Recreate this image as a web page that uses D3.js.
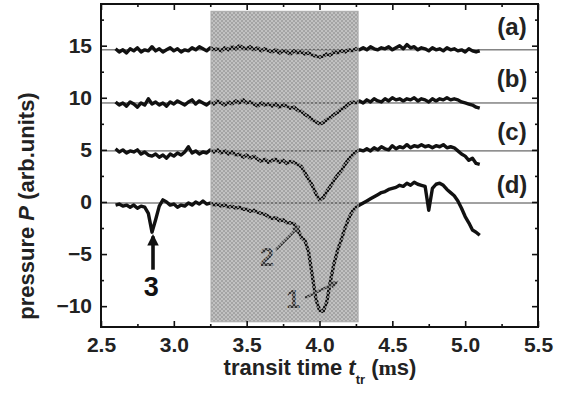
<!DOCTYPE html>
<html>
<head>
<meta charset="utf-8">
<script src="https://cdn.jsdelivr.net/npm/d3@7"></script>
<style>
  body { margin: 0; background: #fff; }
  text { font-family: "Liberation Sans", Arial, sans-serif; font-weight: bold; fill: #222; }
</style>
</head>
<body>
<div id="chart"></div>
<script>
// sample times: 2.600 .. 5.100 ms, every 0.025
const tGrid = d3.range(101).map(i => 2.6 + i * 0.025);

const seriesA = [14.7,14.4,14.6,14.3,14.7,14.5,14.8,14.4,14.6,14.5,14.9,14.5,14.7,14.4,14.6,14.8,14.5,14.7,14.4,14.6,
  14.5,14.8,14.6,14.9,14.7,14.5,14.8,14.6,14.7,14.5,14.8,14.6,14.9,14.7,15.0,14.8,14.7,14.9,14.6,14.8,
  14.5,14.7,14.5,14.4,14.6,14.3,14.5,14.4,14.2,14.5,14.3,14.4,14.2,14.3,14.1,14.0,13.9,14.0,14.2,14.1,
  14.4,14.3,14.5,14.4,14.6,14.5,14.7,14.6,14.8,14.6,14.9,14.7,14.6,14.8,14.7,14.9,14.6,14.8,15.0,14.7,
  15.1,14.8,14.9,14.6,14.8,14.7,14.5,14.8,14.6,14.7,14.5,14.8,14.6,14.7,14.5,14.6,14.4,14.7,14.5,14.4,14.5];

const seriesB = [9.6,9.3,9.5,9.2,9.6,9.4,9.1,9.5,9.3,9.9,9.4,9.6,9.3,9.5,9.2,9.6,9.4,9.7,9.5,9.3,
  9.6,9.8,9.4,9.7,9.5,9.3,9.6,9.4,9.7,9.5,9.3,9.6,9.4,9.7,9.5,9.8,9.5,9.6,9.4,9.2,
  9.5,9.3,9.4,9.2,9.4,9.1,9.3,9.2,9.0,9.1,8.8,8.7,8.4,8.2,7.9,7.7,7.5,7.6,7.9,8.1,
  8.4,8.6,8.9,9.1,9.4,9.6,9.5,9.7,9.5,9.8,9.6,9.9,9.7,9.6,9.9,9.7,10.0,9.8,9.9,9.7,
  9.9,9.8,10.0,9.7,9.9,9.8,9.6,9.9,9.7,9.9,9.8,10.0,9.8,9.9,9.8,9.6,9.5,9.4,9.3,9.1,9.0];

const seriesC = [5.1,4.8,5.0,4.7,4.9,4.8,5.0,4.6,4.8,4.5,4.4,4.6,4.3,4.5,4.2,4.6,4.4,4.7,4.5,4.8,
  5.3,4.7,4.9,4.6,4.8,4.7,5.0,4.8,5.0,4.7,4.9,4.6,4.8,4.5,4.6,4.3,4.5,4.2,4.4,4.1,
  3.9,4.1,3.8,4.0,4.1,3.8,4.0,3.7,3.9,3.8,3.6,3.4,2.8,2.2,1.6,0.8,0.2,0.4,1.0,1.5,
  2.1,2.6,3.0,3.6,4.1,4.5,4.8,5.0,4.9,5.1,4.9,5.2,5.0,5.3,5.1,5.0,5.4,5.1,5.3,5.2,
  5.5,5.2,5.4,5.3,5.5,5.3,5.4,5.2,5.4,5.3,5.5,5.2,5.3,5.2,4.9,4.6,4.4,4.0,4.2,3.7,3.6];

const seriesD = [-0.3,-0.2,-0.4,-0.3,-0.5,-0.3,-0.6,-0.4,-0.5,-1.1,-2.9,-1.7,-0.4,0.2,0.0,-0.3,-0.2,-0.5,-0.3,-0.4,
  -0.1,-0.3,0.0,-0.2,0.1,-0.2,-0.1,-0.3,-0.2,-0.4,-0.3,-0.5,-0.4,-0.6,-0.5,-0.7,-0.7,-0.9,-0.8,-1.0,
  -1.1,-1.2,-1.4,-1.6,-1.5,-1.8,-1.7,-2.0,-2.0,-2.1,-2.6,-3.4,-3.7,-4.8,-7.0,-9.3,-10.4,-10.5,-9.6,-7.6,
  -5.9,-4.6,-3.6,-2.5,-1.6,-0.9,-0.5,-0.3,-0.1,0.1,0.3,0.5,0.7,0.9,1.0,1.2,1.3,1.4,1.6,1.5,
  1.8,1.6,1.9,1.7,1.6,1.5,-0.8,1.3,1.7,1.8,1.6,1.2,0.9,0.6,0.1,-0.6,-1.4,-2.0,-2.7,-2.9,-3.2];

const allSeries = [seriesA, seriesB, seriesC, seriesD];
const curveLabels = ['(a)', '(b)', '(c)', '(d)'];
const labelLevels = [16.0, 11.0, 5.9, 0.9];
const baselines = [14.6, 9.5, 4.9, -0.1];
const shadedSpan = [3.255, 4.265];
const shadedLevels = [18.3, -11.5];
const xTicks = [2.5, 3.0, 3.5, 4.0, 4.5, 5.0, 5.5];
const yTicks = [-10, -5, 0, 5, 10, 15];
const xMinor = [2.75, 3.25, 3.75, 4.25, 4.75, 5.25];
const yMinor = [-7.5, -2.5, 2.5, 7.5, 12.5, 17.5];

// annotation arrows: label, label position, arrow from -> to (data units)
const notes = [
  {text: '3', at: [2.845, -9.0], from: [2.857, -6.5], to: [2.857, -3.3], grey: false},
  {text: '2', at: [3.64, -6.1], from: [3.70, -4.6], to: [3.86, -2.35], grey: true},
  {text: '1', at: [3.82, -10.2], from: [3.90, -9.2], to: [4.12, -7.7], grey: true},
];

const W = 568, H = 398;
const margin = {top: 4, right: 30, bottom: 71, left: 101};
const width = W - margin.left - margin.right;
const height = H - margin.top - margin.bottom;

const svg = d3.select('#chart').append('svg')
  .attr('width', W)
  .attr('height', H);

const defs = svg.append('defs');
const pat = defs.append('pattern')
  .attr('id', 'hatch')
  .attr('patternUnits', 'userSpaceOnUse')
  .attr('width', 4).attr('height', 4);
pat.append('rect').attr('width', 4).attr('height', 4).attr('fill', '#f2f2f2');
pat.append('rect').attr('x', 0).attr('y', 0).attr('width', 2).attr('height', 2).attr('fill', '#a4a4a4');
pat.append('rect').attr('x', 2).attr('y', 2).attr('width', 2).attr('height', 2).attr('fill', '#a4a4a4');

const over = defs.append('pattern')
  .attr('id', 'hatchOver')
  .attr('patternUnits', 'userSpaceOnUse')
  .attr('width', 4).attr('height', 4);
over.append('rect').attr('x', 2).attr('y', 0).attr('width', 2).attr('height', 2).attr('fill', '#b0b0b0').attr('fill-opacity', 0.75);
over.append('rect').attr('x', 0).attr('y', 2).attr('width', 2).attr('height', 2).attr('fill', '#b0b0b0').attr('fill-opacity', 0.75);

defs.append('marker')
  .attr('id', 'head')
  .attr('viewBox', '0 0 10 10')
  .attr('refX', 8).attr('refY', 5)
  .attr('markerWidth', 3.2).attr('markerHeight', 3.2)
  .attr('orient', 'auto')
  .append('path')
    .attr('d', 'M0,0 L10,5 L0,10 Z')
    .attr('fill', 'context-stroke');

const xScale = d3.scaleLinear().domain([2.5, 5.5]).range([0, width]);
const yScale = d3.scaleLinear().domain([-12, 19]).range([height, 0]);

const g = svg.append('g').attr('transform', `translate(${margin.left},${margin.top})`);

const shade = {
  x: xScale(shadedSpan[0]),
  y: yScale(shadedLevels[0]),
  w: xScale(shadedSpan[1]) - xScale(shadedSpan[0]),
  h: yScale(shadedLevels[1]) - yScale(shadedLevels[0]),
};

// shaded window background
g.append('rect')
  .attr('x', shade.x).attr('y', shade.y)
  .attr('width', shade.w).attr('height', shade.h)
  .attr('fill', 'url(#hatch)');

// thin reference lines
g.selectAll('.base')
  .data(baselines)
  .enter().append('line')
    .attr('class', 'base')
    .attr('x1', 0)
    .attr('x2', width - 1)
    .attr('y1', d => yScale(d))
    .attr('y2', d => yScale(d))
    .attr('stroke', '#444')
    .attr('stroke-width', 1);

const line = d3.line()
  .x((d, i) => xScale(tGrid[i]))
  .y(d => yScale(d));

g.selectAll('.trace')
  .data(allSeries)
  .enter().append('path')
    .attr('class', 'trace')
    .attr('d', d => line(d))
    .attr('fill', 'none')
    .attr('stroke', '#111')
    .attr('stroke-width', 3.4)
    .attr('stroke-linejoin', 'round');

// annotations
notes.forEach(n => {
  const col = n.grey ? '#333' : '#111';
  g.append('line')
    .attr('x1', xScale(n.from[0])).attr('y1', yScale(n.from[1]))
    .attr('x2', xScale(n.to[0])).attr('y2', yScale(n.to[1]))
    .attr('stroke', col)
    .attr('stroke-width', n.grey ? 2.6 : 3.6)
    .attr('marker-end', 'url(#head)');
  g.append('text')
    .attr('x', xScale(n.at[0]))
    .attr('y', yScale(n.at[1]))
    .attr('text-anchor', 'middle')
    .style('font-size', n.grey ? '25px' : '27px')
    .style('fill', col)
    .text(n.text);
});

// overlay hatch so the traces look screened inside the window
g.append('rect')
  .attr('x', shade.x).attr('y', shade.y)
  .attr('width', shade.w).attr('height', shade.h)
  .attr('fill', 'url(#hatchOver)')
  .attr('stroke', '#aaa')
  .attr('stroke-width', 1);

g.selectAll('.curve-label')
  .data(curveLabels)
  .enter().append('text')
    .attr('class', 'curve-label')
    .attr('x', width - 26)
    .attr('y', (d, i) => yScale(labelLevels[i]))
    .attr('text-anchor', 'middle')
    .style('font-size', '24px')
    .text(d => d);

// axes: inward ticks on all four sides
const fmt = d3.format('.1f');
const styleAxis = sel => {
  sel.select('.domain').remove();
  sel.selectAll('line').attr('stroke', '#111').attr('stroke-width', 1.6);
  sel.selectAll('text').style('font-size', '21px').attr('fill', '#222');
};

g.append('g')
  .attr('transform', `translate(0,${height})`)
  .call(d3.axisBottom(xScale).tickValues(xTicks).tickFormat(fmt).tickSize(-6).tickPadding(10))
  .call(styleAxis);
g.append('g')
  .attr('transform', `translate(0,${height})`)
  .call(d3.axisBottom(xScale).tickValues(xMinor).tickFormat('').tickSize(-3))
  .call(styleAxis);
g.append('g')
  .call(d3.axisTop(xScale).tickValues(xTicks).tickFormat('').tickSize(-6))
  .call(styleAxis);
g.append('g')
  .call(d3.axisTop(xScale).tickValues(xMinor).tickFormat('').tickSize(-3))
  .call(styleAxis);

g.append('g')
  .call(d3.axisLeft(yScale).tickValues(yTicks).tickSize(-6).tickPadding(9))
  .call(styleAxis);
g.append('g')
  .call(d3.axisLeft(yScale).tickValues(yMinor).tickFormat('').tickSize(-3))
  .call(styleAxis);
g.append('g')
  .attr('transform', `translate(${width},0)`)
  .call(d3.axisRight(yScale).tickValues(yTicks).tickFormat('').tickSize(-6))
  .call(styleAxis);
g.append('g')
  .attr('transform', `translate(${width},0)`)
  .call(d3.axisRight(yScale).tickValues(yMinor).tickFormat('').tickSize(-3))
  .call(styleAxis);

g.append('rect')
  .attr('width', width)
  .attr('height', height)
  .attr('fill', 'none')
  .attr('stroke', '#111')
  .attr('stroke-width', 2);

// axis titles
const xt = svg.append('text')
  .attr('x', 320)
  .attr('y', 375)
  .attr('text-anchor', 'middle')
  .style('font-size', '22px');
xt.append('tspan').text('transit time  ');
xt.append('tspan').style('font-style', 'italic').text('t');
xt.append('tspan').attr('dy', 9).style('font-size', '13px').text('tr');
xt.append('tspan').attr('dy', -9).text(' (');
xt.append('tspan').style('font-family', '"Liberation Serif", serif').text('m');
xt.append('tspan').text('s)');

const yt = svg.append('text')
  .attr('transform', 'translate(34,206) rotate(-90)')
  .attr('text-anchor', 'middle')
  .style('font-size', '22px');
yt.append('tspan').text('pressure  ');
yt.append('tspan').style('font-style', 'italic').text('P');
yt.append('tspan').text(' (arb.units)');
</script>
</body>
</html>
